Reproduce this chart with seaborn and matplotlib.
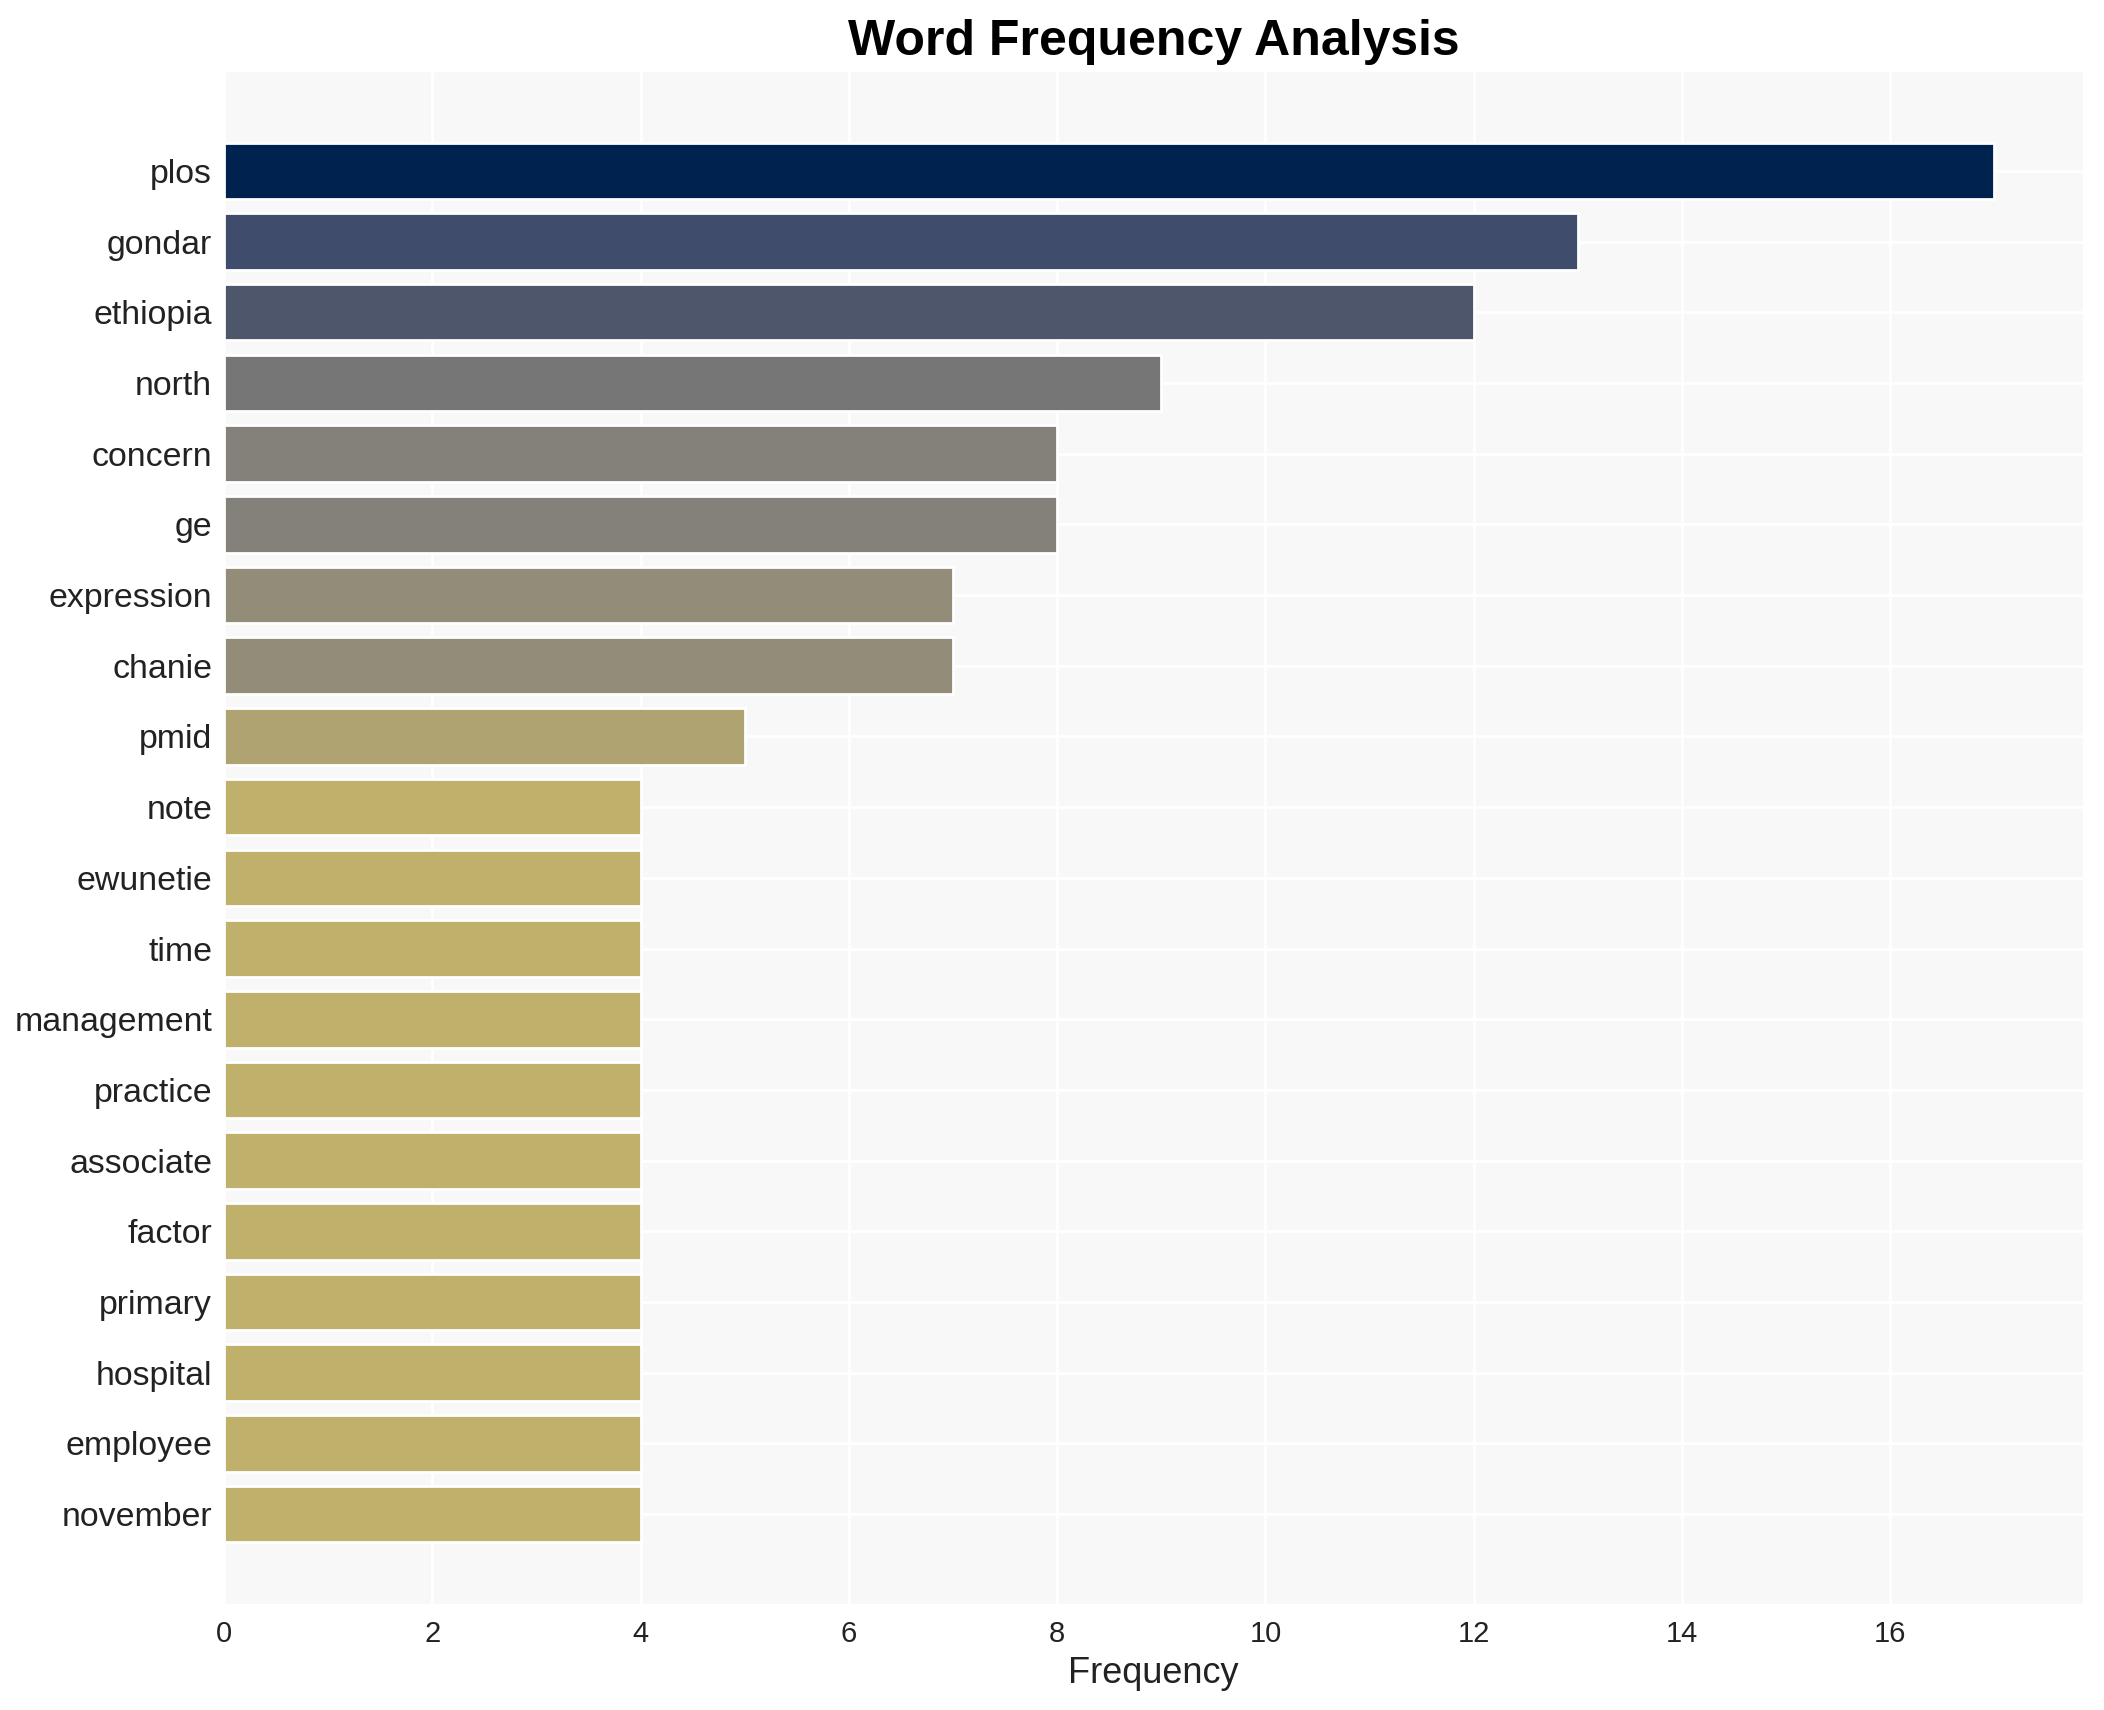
"""Horizontal bar chart of word frequencies."""
import matplotlib
matplotlib.use('Agg')
import matplotlib.pyplot as plt
import numpy as np
import pandas as pd
import seaborn as sns

words = ['plos', 'gondar', 'ethiopia', 'north', 'concern', 'ge', 'expression',
         'chanie', 'pmid', 'note', 'ewunetie', 'time', 'management', 'practice',
         'associate', 'factor', 'primary', 'hospital', 'employee', 'november']
counts = [17, 13, 12, 9, 8, 8, 7, 7, 5, 4, 4, 4, 4, 4, 4, 4, 4, 4, 4, 4]

df = pd.DataFrame({'word': words, 'count': counts})

# colour each bar by its share of the top count
cmap = plt.get_cmap('cividis')
colors = [cmap(1 - c / max(counts)) for c in counts]

sns.set_theme(style='whitegrid')
plt.rcParams['font.family'] = ['Liberation Sans', 'DejaVu Sans']

fig, ax = plt.subplots(figsize=(10.52, 8.55), dpi=200)
fig.subplots_adjust(left=0.1065, right=0.99, top=0.958, bottom=0.062)
ax.set_facecolor('#f8f8f8')

sns.barplot(data=df, x='count', y='word', hue='word', palette=colors,
            legend=False, width=0.8, saturation=1, ax=ax)

ax.grid(True, color='white', linewidth=1)
for spine in ax.spines.values():
    spine.set_visible(False)

n = len(words)
ax.set_xlim(0, max(counts) * 1.05)
ax.set_ylim(n - 1 + 1.27, -1.4)
ax.set_xticks(np.arange(0, 17, 2))

ax.set_title('Word Frequency Analysis', fontsize=18, fontweight='bold',
             color='black', pad=6)
ax.set_xlabel('Frequency', fontsize=13, color='#222222', labelpad=3)
ax.set_ylabel('')
ax.tick_params(axis='y', labelsize=12.2, colors='#222222', pad=4.3, length=0)
ax.tick_params(axis='x', labelsize=10.5, colors='#222222', pad=5.6, length=0)

fig.savefig('out.png', dpi=200)
plt.close(fig)
